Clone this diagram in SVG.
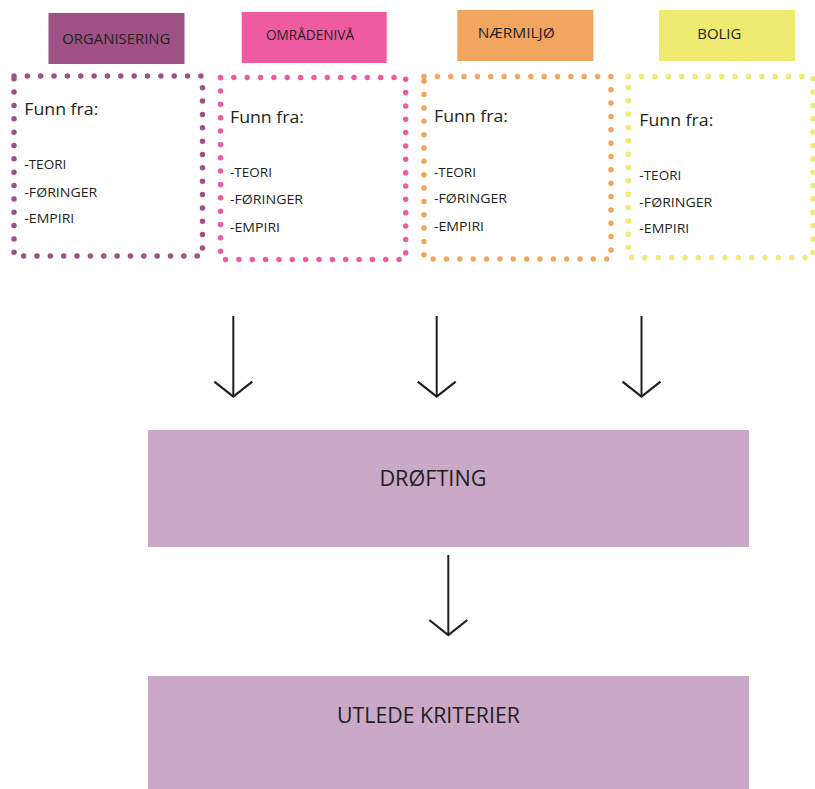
<svg xmlns="http://www.w3.org/2000/svg" width="815" height="789" viewBox="0 0 815 789">
<style>
.hdr{font-family:"Open Sans","Noto Sans",sans-serif;font-size:14.5px;fill:#231f20}
.fun{font-family:"Open Sans","Noto Sans",sans-serif;font-size:16.5px;fill:#231f20}
.itm{font-family:"Open Sans","Noto Sans",sans-serif;font-size:13px;fill:#231f20}
.big{font-family:"Open Sans","Noto Sans",sans-serif;font-size:21.5px;fill:#231f20}
.dot{fill:none;stroke-width:5.5;stroke-linecap:round;stroke-dasharray:0 13.35}
.arr{fill:none;stroke:#231f20;stroke-width:2;marker-end:url(#chev)}
</style>
<defs>
<marker id="chev" markerUnits="userSpaceOnUse" viewBox="-18 -21 20 42" markerWidth="20" markerHeight="42" refX="0" refY="0" orient="auto" overflow="visible">
<path d="M-15,-19 L0,0 L-15,19" fill="none" stroke="#231f20" stroke-width="2.2"/>
</marker>
</defs>
<rect width="815" height="789" fill="#ffffff"/>

<g id="organisering">
<rect x="48.5" y="13" width="136" height="51" fill="#9e5185"/>
<text class="hdr" x="62.3" y="44" textLength="108" lengthAdjust="spacingAndGlyphs">ORGANISERING</text>
<rect class="dot" x="14" y="76" width="188.5" height="180" stroke="#9e5185"/>
<text class="fun" x="24.3" y="115" textLength="74" lengthAdjust="spacingAndGlyphs">Funn fra:</text>
<text class="itm" x="24.3" y="169.3" textLength="42" lengthAdjust="spacingAndGlyphs">-TEORI</text>
<text class="itm" x="24.3" y="196.7" textLength="73" lengthAdjust="spacingAndGlyphs">-FØRINGER</text>
<text class="itm" x="24.3" y="223.3" textLength="50" lengthAdjust="spacingAndGlyphs">-EMPIRI</text>
</g>

<g id="omradeniva">
<rect x="241.7" y="12" width="145" height="51" fill="#ef5ba1"/>
<text class="hdr" x="266" y="40" textLength="88" lengthAdjust="spacingAndGlyphs">OMRÅDENIVÅ</text>
<rect class="dot" x="220.5" y="77.5" width="185.2" height="182" stroke="#ef5ba1"/>
<text class="fun" x="230" y="122.7" textLength="74" lengthAdjust="spacingAndGlyphs">Funn fra:</text>
<text class="itm" x="230" y="177.3" textLength="42" lengthAdjust="spacingAndGlyphs">-TEORI</text>
<text class="itm" x="230" y="204.3" textLength="73" lengthAdjust="spacingAndGlyphs">-FØRINGER</text>
<text class="itm" x="230" y="231.7" textLength="50" lengthAdjust="spacingAndGlyphs">-EMPIRI</text>
</g>

<g id="naermiljo">
<rect x="457.3" y="10" width="136" height="51" fill="#f1a55f"/>
<text class="hdr" x="477.7" y="37.7" textLength="77" lengthAdjust="spacingAndGlyphs">NÆRMILJØ</text>
<rect class="dot" x="424" y="76.5" width="187" height="182.5" stroke="#f1a55f"/>
<text class="fun" x="434" y="121.7" textLength="74" lengthAdjust="spacingAndGlyphs">Funn fra:</text>
<text class="itm" x="434" y="176.7" textLength="42" lengthAdjust="spacingAndGlyphs">-TEORI</text>
<text class="itm" x="434" y="203.3" textLength="73" lengthAdjust="spacingAndGlyphs">-FØRINGER</text>
<text class="itm" x="434" y="230.7" textLength="50" lengthAdjust="spacingAndGlyphs">-EMPIRI</text>
</g>

<g id="bolig">
<rect x="659" y="10" width="136" height="51" fill="#efeb70"/>
<text class="hdr" x="697.3" y="39" textLength="44" lengthAdjust="spacingAndGlyphs">BOLIG</text>
<rect class="dot" x="628.3" y="76.5" width="184.7" height="181.2" stroke="#efeb70"/>
<text class="fun" x="639.3" y="126" textLength="74" lengthAdjust="spacingAndGlyphs">Funn fra:</text>
<text class="itm" x="639.3" y="180" textLength="42" lengthAdjust="spacingAndGlyphs">-TEORI</text>
<text class="itm" x="639.3" y="206.7" textLength="73" lengthAdjust="spacingAndGlyphs">-FØRINGER</text>
<text class="itm" x="639.3" y="233.3" textLength="50" lengthAdjust="spacingAndGlyphs">-EMPIRI</text>
</g>

<g id="drofting">
<rect x="148" y="430" width="601" height="117" fill="#caa8c8"/>
<text class="big" x="379.4" y="486" textLength="107" lengthAdjust="spacingAndGlyphs">DRØFTING</text>
</g>

<g id="utlede">
<rect x="148" y="676" width="601" height="113" fill="#caa8c8"/>
<text class="big" x="337" y="722.7" textLength="183" lengthAdjust="spacingAndGlyphs">UTLEDE KRITERIER</text>
</g>

<g id="connectors">
<line class="arr" x1="233.3" y1="316" x2="233.3" y2="396.7"/>
<line class="arr" x1="436.7" y1="316" x2="436.7" y2="396.7"/>
<line class="arr" x1="641.5" y1="316" x2="641.5" y2="396.7"/>
<line class="arr" x1="448.3" y1="555" x2="448.3" y2="635"/>
</g>
</svg>
